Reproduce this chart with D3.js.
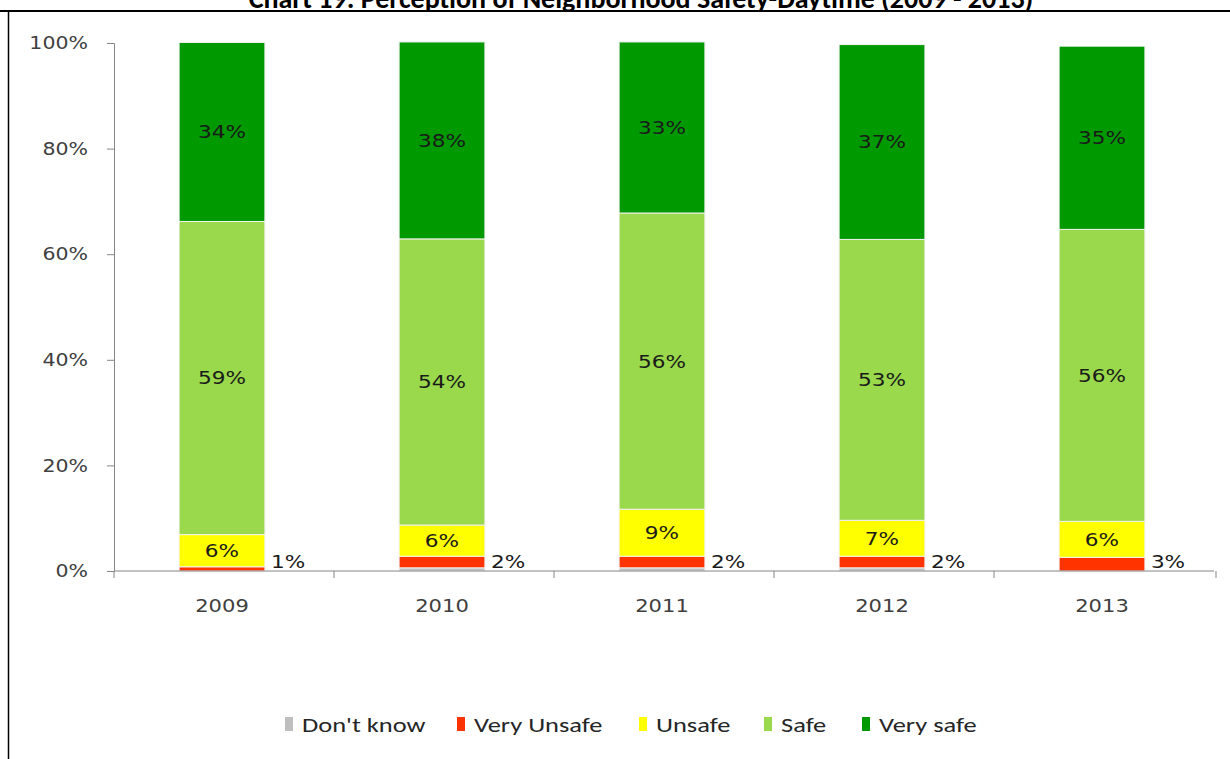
<!DOCTYPE html>
<html>
<head>
<meta charset="utf-8">
<script src="https://cdn.jsdelivr.net/npm/d3@7"></script>
<style>
  body { margin: 0; background: #fff; }
  svg { display: block; }
  text { font-family: "DejaVu Sans", Verdana, sans-serif; }
</style>
</head>
<body>
<svg id="rootSVG" width="1230" height="759"></svg>
<script>
// chart data
const years = ["2009", "2010", "2011", "2012", "2013"];
const seriesNames = ["Don't know", "Very Unsafe", "Unsafe", "Safe", "Very safe"];
const dontKnow = [0.0, 0.6, 0.6, 0.6, 0.0];
const veryUnsafe = [0.8, 2.2, 2.2, 2.2, 2.6];
const unsafe = [6.1, 5.9, 8.9, 6.8, 6.8];
const safe = [59.3, 54.2, 56.1, 53.2, 55.3];
const verySafe = [33.9, 37.3, 32.4, 36.9, 34.7];
const valueLabels = [
  ["", "", "", "", ""],
  ["1%", "2%", "2%", "2%", "3%"],
  ["6%", "6%", "9%", "7%", "6%"],
  ["59%", "54%", "56%", "53%", "56%"],
  ["34%", "38%", "33%", "37%", "35%"]
];
const yTicks = [0, 20, 40, 60, 80, 100];
const colors = ["#bfbfbf", "#ff3300", "#ffff00", "#99d94b", "#009900"];

const svg = d3.select("#rootSVG");
const margin = {left: 114, right: 16, top: 43, bottom: 188};
const width = 1230, height = 759;

// the source picture is a bit wide, so texts get stretched sideways
const stretch = (sel, k) => sel.each(function () {
  const t = d3.select(this);
  t.attr("x", (+t.attr("x") || 0) / k).attr("transform", `scale(${k},1)`);
});

const series = [dontKnow, veryUnsafe, unsafe, safe, verySafe];
const table = years.map((y, i) => {
  const row = {year: y};
  seriesNames.forEach((s, k) => row[s] = series[k][i]);
  return row;
});
const stacked = d3.stack().keys(seriesNames)(table);

const x = d3.scaleBand().domain(years)
  .range([margin.left - 2, width - margin.right - 2])
  .paddingInner(0.61).paddingOuter(0.305);
const y = d3.scaleLinear().domain([0, 100]).range([height - margin.bottom, margin.top]);

// frame and clipped title
svg.append("text")
  .attr("x", 641).attr("y", 8)
  .attr("text-anchor", "middle")
  .style("font-family", "Carlito, Calibri, 'Open Sans', sans-serif")
  .style("font-weight", "bold").style("font-size", "28px")
  .attr("fill", "#000")
  .text("Chart 19: Perception of Neighborhood Safety-Daytime (2009 - 2013)");
svg.append("rect").attr("x", 0).attr("y", 10).attr("width", width).attr("height", 3).attr("fill", "#fff");
svg.append("line").attr("x1", 0).attr("x2", width).attr("y1", 11).attr("y2", 11)
  .attr("stroke", "#000").attr("stroke-width", 2);
svg.append("line").attr("x1", 8.5).attr("x2", 8.5).attr("y1", 11).attr("y2", height)
  .attr("stroke", "#000").attr("stroke-width", 1.5);

// bars
const groups = svg.selectAll(".series").data(stacked).enter().append("g")
  .attr("class", "series").attr("fill", (d, i) => colors[i]);
groups.selectAll("rect").data(d => d).enter().append("rect")
  .attr("x", d => x(d.data.year))
  .attr("width", x.bandwidth())
  .attr("y", d => y(d[1]))
  .attr("height", d => y(d[0]) - y(d[1]))
  .attr("stroke", "#f2f2f2").attr("stroke-width", 1);

// value labels
stacked.forEach((s, k) => {
  if (k === 0) return;
  const outside = k === 1;
  const lab = svg.append("g").selectAll("text").data(s).enter().append("text")
    .attr("x", d => outside ? x(d.data.year) + x.bandwidth() + 6 : x(d.data.year) + x.bandwidth() / 2)
    .attr("y", d => outside ? Math.min((y(d[0]) + y(d[1])) / 2, y(0) - 9) : (y(d[0]) + y(d[1])) / 2)
    .attr("dy", "0.36em")
    .attr("text-anchor", outside ? "start" : "middle")
    .attr("fill", "#1a1a1a")
    .style("font-size", "18px")
    .text((d, i) => valueLabels[k][i]);
  stretch(lab, 1.2);
});

// y axis
const yAxis = svg.append("g").attr("transform", `translate(${margin.left},0)`)
  .call(d3.axisLeft(y).tickValues(yTicks).tickFormat(d => d + "%").tickSize(7).tickPadding(19));
yAxis.select(".domain").attr("stroke", "#868686");
yAxis.selectAll(".tick line").attr("stroke", "#868686");
yAxis.selectAll("text").attr("fill", "#404040").style("font-size", "18px");
stretch(yAxis.selectAll("text"), 1.14);

// x axis
const xAxis = svg.append("g").attr("transform", `translate(0,${y(0)})`)
  .call(d3.axisBottom(x).tickSize(0).tickPadding(28));
xAxis.select(".domain").attr("stroke", "#868686").attr("d", `M${margin.left},0H${width - margin.right}`);
xAxis.selectAll("text").attr("fill", "#404040").style("font-size", "18px");
stretch(xAxis.selectAll("text"), 1.17);
const bounds = years.map(c => x(c) - x.step() * x.paddingInner() / 2).concat([width - margin.right]);
xAxis.selectAll(".bound").data(bounds).enter().append("line")
  .attr("x1", d => d + 2).attr("x2", d => d + 2).attr("y1", 0).attr("y2", 7)
  .attr("stroke", "#868686");

// legend
const legendX = [285, 457, 639, 764, 862];
const legend = svg.append("g").selectAll("g").data(seriesNames).enter().append("g")
  .attr("transform", (d, i) => `translate(${legendX[i]},717)`);
legend.append("rect").attr("width", 8).attr("height", 14).attr("fill", (d, i) => colors[i]);
const legendText = legend.append("text").attr("x", 17).attr("y", 7).attr("dy", "0.36em")
  .attr("fill", "#262626")
  .style("font-family", "Carlito, Calibri, 'Open Sans', sans-serif")
  .style("font-size", "21px")
  .text(d => d);
stretch(legendText, 1.26);
</script>
</body>
</html>
